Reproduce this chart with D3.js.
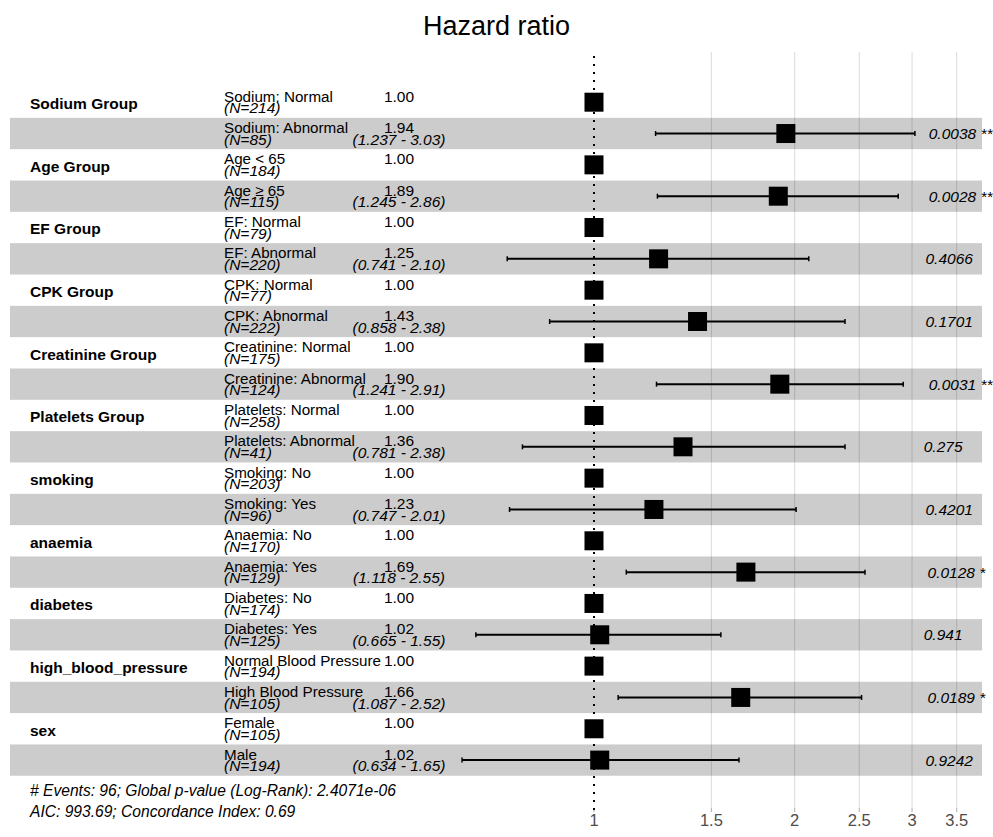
<!DOCTYPE html>
<html>
<head>
<meta charset="utf-8">
<script src="https://cdn.jsdelivr.net/npm/d3@7"></script>
<style>
  html, body { margin: 0; padding: 0; background: #ffffff; }
  svg { display: block; font-family: "Liberation Sans", Arial, sans-serif; }
</style>
</head>
<body>
<svg id="chart" width="993" height="837"></svg>
<script>
// Cox model covariates, one group per variable (reference level first)
const variables = ["Sodium Group", "Age Group", "EF Group", "CPK Group", "Creatinine Group",
  "Platelets Group", "smoking", "anaemia", "diabetes", "high_blood_pressure", "sex"];
const levels = [
  "Sodium: Normal", "Sodium: Abnormal",
  "Age < 65", "Age \u2265 65",
  "EF: Normal", "EF: Abnormal",
  "CPK: Normal", "CPK: Abnormal",
  "Creatinine: Normal", "Creatinine: Abnormal",
  "Platelets: Normal", "Platelets: Abnormal",
  "Smoking: No", "Smoking: Yes",
  "Anaemia: No", "Anaemia: Yes",
  "Diabetes: No", "Diabetes: Yes",
  "Normal Blood Pressure", "High Blood Pressure",
  "Female", "Male"
];
const counts = [214, 85, 184, 115, 79, 220, 77, 222, 175, 124, 258, 41, 203, 96, 170, 129, 174, 125, 194, 105, 105, 194];
const hazardRatios = [1, 1.94, 1, 1.89, 1, 1.25, 1, 1.43, 1, 1.90, 1, 1.36, 1, 1.23, 1, 1.69, 1, 1.02, 1, 1.66, 1, 1.02];
const ciLow = [null, 1.237, null, 1.245, null, 0.741, null, 0.858, null, 1.241, null, 0.781, null, 0.747, null, 1.118, null, 0.665, null, 1.087, null, 0.634];
const ciHigh = [null, 3.03, null, 2.86, null, 2.10, null, 2.38, null, 2.91, null, 2.38, null, 2.01, null, 2.55, null, 1.55, null, 2.52, null, 1.65];
const ciLabels = [null, "(1.237 - 3.03)", null, "(1.245 - 2.86)", null, "(0.741 - 2.10)", null, "(0.858 - 2.38)",
  null, "(1.241 - 2.91)", null, "(0.781 - 2.38)", null, "(0.747 - 2.01)", null, "(1.118 - 2.55)",
  null, "(0.665 - 1.55)", null, "(1.087 - 2.52)", null, "(0.634 - 1.65)"];
const pLabels = [null, "0.0038 **", null, "0.0028 **", null, "0.4066", null, "0.1701", null, "0.0031 **",
  null, "0.275", null, "0.4201", null, "0.0128 *", null, "0.941", null, "0.0189 *", null, "0.9242"];
const xTicks = [1, 1.5, 2, 2.5, 3, 3.5];
const footerLines = [
  "# Events: 96; Global p-value (Log-Rank): 2.4071e-06",
  "AIC: 993.69; Concordance Index: 0.69"
];
const title = "Hazard ratio";

const rows = levels.map((lev, i) => ({
  idx: i,
  variable: i % 2 === 0 ? variables[i / 2] : null,
  level: lev,
  n: counts[i],
  hr: hazardRatios[i],
  lo: ciLow[i],
  hi: ciHigh[i],
  ci: ciLabels[i],
  p: pLabels[i]
}));

const svg = d3.select("#chart");

// Layout
const panel = { left: 10, right: 982, top: 52, bottom: 808 };
const x = d3.scaleLog().domain([0.13303, 3.8199]).range([panel.left, panel.right]);
const y = d3.scalePoint().domain(rows.map(r => r.idx)).range([102.2, 760.1]);
const step = y.step();
const colName = 30, colLevel = 224, colEst = 399, colP = 916;
const fs = 15.5;

// Title
svg.append("text")
  .attr("x", 496.5).attr("y", 35)
  .attr("text-anchor", "middle")
  .attr("font-size", 27)
  .attr("fill", "#000")
  .text(title);

// Vertical grid lines
svg.append("g").selectAll("line")
  .data(xTicks.filter(t => t !== 1))
  .join("line")
  .attr("x1", d => x(d)).attr("x2", d => x(d))
  .attr("y1", panel.top).attr("y2", panel.bottom)
  .attr("stroke", "#dedede").attr("stroke-width", 1.1);

// Alternating row bands
svg.append("g").selectAll("rect")
  .data(rows.filter(r => r.idx % 2 === 1))
  .join("rect")
  .attr("x", panel.left)
  .attr("width", panel.right - panel.left)
  .attr("y", d => y(d.idx) - step / 2)
  .attr("height", step)
  .attr("fill", "rgba(0,0,0,0.2)");

// Axis ticks and labels
const axis = svg.append("g");
axis.selectAll("line")
  .data(xTicks)
  .join("line")
  .attr("x1", d => x(d)).attr("x2", d => x(d))
  .attr("y1", panel.bottom).attr("y2", panel.bottom + 4)
  .attr("stroke", "#b3b3b3").attr("stroke-width", 1.1);
axis.selectAll("text")
  .data(xTicks)
  .join("text")
  .attr("x", d => x(d)).attr("y", 826)
  .attr("text-anchor", "middle")
  .attr("font-size", 16.5)
  .attr("fill", "#4d4d4d")
  .text(d => d3.format("~g")(d));

// Reference line at HR = 1
svg.append("line")
  .attr("x1", x(1)).attr("x2", x(1))
  .attr("y1", panel.top + 4).attr("y2", panel.bottom + 4)
  .attr("stroke", "#000").attr("stroke-width", 2)
  .attr("stroke-dasharray", "2,6");

// Confidence intervals
const ciRows = rows.filter(r => r.lo !== null);
const ci = svg.append("g");
ci.selectAll("line.bar")
  .data(ciRows)
  .join("line")
  .attr("class", "bar")
  .attr("x1", d => x(d.lo)).attr("x2", d => x(d.hi))
  .attr("y1", d => y(d.idx)).attr("y2", d => y(d.idx))
  .attr("stroke", "#000").attr("stroke-width", 2);
ci.selectAll("line.capL")
  .data(ciRows)
  .join("line")
  .attr("class", "capL")
  .attr("x1", d => x(d.lo)).attr("x2", d => x(d.lo))
  .attr("y1", d => y(d.idx) - 2.5).attr("y2", d => y(d.idx) + 2.5)
  .attr("stroke", "#000").attr("stroke-width", 1.5);
ci.selectAll("line.capR")
  .data(ciRows)
  .join("line")
  .attr("class", "capR")
  .attr("x1", d => x(d.hi)).attr("x2", d => x(d.hi))
  .attr("y1", d => y(d.idx) - 2.5).attr("y2", d => y(d.idx) + 2.5)
  .attr("stroke", "#000").attr("stroke-width", 1.5);

// Point estimates
const sq = 19;
svg.append("g").selectAll("rect")
  .data(rows)
  .join("rect")
  .attr("x", d => x(d.hr) - sq / 2)
  .attr("y", d => y(d.idx) - sq / 2)
  .attr("width", sq).attr("height", sq)
  .attr("fill", "#000");

// Text columns
const txt = svg.append("g").attr("font-size", fs).attr("fill", "#000");
txt.selectAll("text.var")
  .data(rows.filter(r => r.variable))
  .join("text")
  .attr("class", "var")
  .attr("x", colName).attr("y", d => y(d.idx) + 6.8)
  .attr("font-weight", "bold")
  .text(d => d.variable);
txt.selectAll("text.level")
  .data(rows)
  .join("text")
  .attr("class", "level")
  .attr("x", colLevel).attr("y", d => y(d.idx) - 0.5)
  .attr("font-size", 15.2)
  .text(d => d.level);
txt.selectAll("text.n")
  .data(rows)
  .join("text")
  .attr("class", "n")
  .attr("x", colLevel).attr("y", d => y(d.idx) + 11.2)
  .attr("font-style", "italic")
  .text(d => `(N=${d.n})`);
txt.selectAll("text.est")
  .data(rows)
  .join("text")
  .attr("class", "est")
  .attr("x", colEst).attr("y", d => y(d.idx) - 0.5)
  .attr("text-anchor", "middle")
  .text(d => d3.format(".2f")(d.hr));
txt.selectAll("text.ci")
  .data(ciRows)
  .join("text")
  .attr("class", "ci")
  .attr("x", colEst).attr("y", d => y(d.idx) + 11.2)
  .attr("text-anchor", "middle")
  .attr("font-style", "italic")
  .text(d => d.ci);
txt.selectAll("text.p")
  .data(ciRows)
  .join("text")
  .attr("class", "p")
  .attr("y", d => y(d.idx) + 5.5)
  .attr("font-style", "italic")
  .text(d => d.p)
  .attr("x", function () { return colP + 0.2 * this.getComputedTextLength(); });

// Model summary
svg.append("g").selectAll("text")
  .data(footerLines)
  .join("text")
  .attr("x", colName)
  .attr("y", (d, i) => 796 + i * 21)
  .attr("font-size", 15.6)
  .attr("font-style", "italic")
  .attr("fill", "#000")
  .text(d => d);
</script>
</body>
</html>
